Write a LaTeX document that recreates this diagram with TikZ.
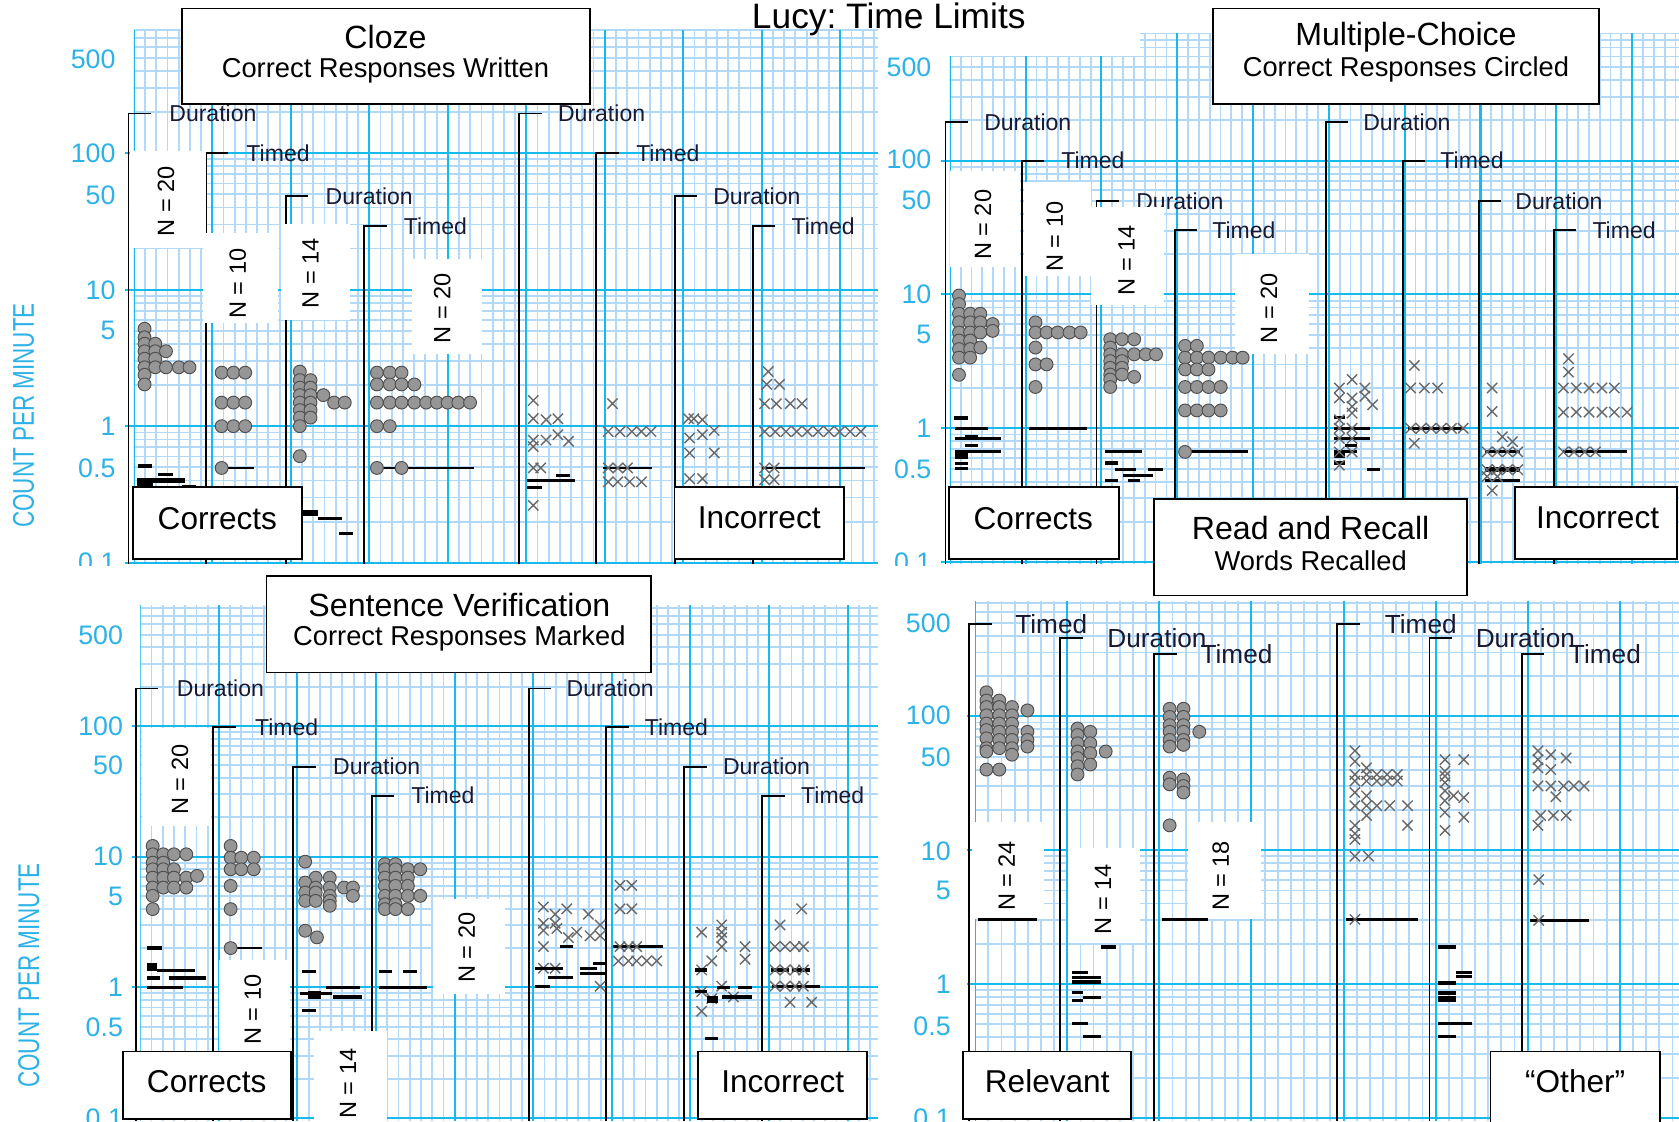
\documentclass[tikz,border=0pt]{standalone}
\usepackage{fontspec}
\setmainfont{Liberation Sans}
\frenchspacing
\definecolor{gmaj}{RGB}{22,186,238}
\definecolor{gmin}{RGB}{178,217,248}
\definecolor{axlab}{RGB}{45,178,232}
\definecolor{dotfill}{RGB}{150,150,150}
\definecolor{dotline}{RGB}{80,80,80}
\definecolor{xcol}{RGB}{105,105,105}
\definecolor{lblcol}{RGB}{25,25,50}
\tikzset{
 gminor/.style={gmin,line width=1.7pt},
 gmajor/.style={gmaj,line width=1.9pt},
 brk/.style={black,line width=1.8pt},
 dotst/.style={fill=dotfill,draw=dotline,line width=0.9pt},
 xst/.style={xcol,line width=1.3pt},
 lbox/.style={draw=black,line width=1.6pt,fill=white,inner sep=0},
 ttl/.style={font=\fontsize{30}{30}\selectfont,inner sep=0},
 sub/.style={font=\fontsize{25.5}{26}\selectfont,inner sep=0},
 big/.style={font=\fontsize{29.5}{30}\selectfont,inner sep=0},
 lbl/.style={font=\fontsize{21.5}{22}\selectfont,text=lblcol,inner sep=0,anchor=west},
 lblb/.style={font=\fontsize{24.5}{25}\selectfont,text=lblcol,inner sep=0,anchor=west},
 axl/.style={font=\fontsize{25}{25}\selectfont,text=axlab,inner sep=0,anchor=east},
 ntx/.style={font=\fontsize{22}{22}\selectfont,rotate=90,inner sep=0},
}
\newcommand\dotc[2]{\path[dotst] (#1,#2) circle[radius=6pt];}
\newcommand\dotrow[2]{\foreach \xx in {#2}{\dotc{\xx}{#1}}}
\newcommand\dotcol[2]{\foreach \yy in {#2}{\dotc{#1}{\yy}}}
\newcommand\xmk[2]{\draw[xst,shift={(#1,#2)}] (-4.8,-4.8)--(4.8,4.8) (-4.8,4.8)--(4.8,-4.8);}
\newcommand\xrow[2]{\foreach \xx in {#2}{\xmk{\xx}{#1}}}
\newcommand\xpairs[1]{\foreach \p/\q in {#1}{\xmk{\p}{\q}}}
\newcommand\dotpairs[1]{\foreach \p/\q in {#1}{\dotc{\p}{\q}}}
\newcommand\barz[4][2.6pt]{\draw[black,line width=#1] (#2,#4) -- (#3,#4);}
\newcommand\brkt[7][lbl]{\draw[brk] ({#3+21},#4) -- (#3,#4) -- (#3,#5);
  \node[#1] (#2) at ({#3+#7},#4) {#6};}
\newcommand\chartgrid[7]{%
 \begin{scope}
 \clip (#1,#3) rectangle (#2,#4);
 \foreach \k in {-1,0,1,2}{\foreach \dd in {2,...,9}{%
   \pgfmathsetmacro\yy{#7-#5*(\k+log10(\dd))}%
   \draw[gminor] (#1,\yy) -- (#2,\yy);}}
 \pgfmathtruncatemacro\nn{(#2-#1)/(#6/7)}%
 \foreach \i in {0,...,\nn}{\pgfmathsetmacro\xx{#1+\i*#6/7}\draw[gminor] (\xx,#3) -- (\xx,#4);}
 \pgfmathtruncatemacro\mm{(#2-#1)/#6}%
 \foreach \i in {0,...,\mm}{\pgfmathsetmacro\xx{#1+\i*#6}\draw[gmajor] (\xx,#3) -- (\xx,#4);}
 \end{scope}
 \foreach \k in {-1,0,1,2}{\pgfmathsetmacro\yy{#7-#5*\k}\draw[gmajor] ({#1-8},\yy) -- (#2,\yy);}
}
\begin{document}
\begin{tikzpicture}[x=1pt,y=-1pt]
\fill[white] (0,0) rectangle (1568,1047);
\useasboundingbox (0,0) rectangle (1568,1047);

% ---------- grids ----------
\chartgrid{125}{820}{28}{527}{127.5}{73.3}{398}
\chartgrid{887}{1568}{31}{527}{125}{70.8}{400}
\chartgrid{131}{820}{565}{1047}{122}{73.4}{922}
\chartgrid{910.7}{1568}{561}{1047}{125}{86}{919}
\fill[white] (875,0) rectangle (1065,52);

% ---------- axis labels ----------
\begin{scope}
\clip (0,0) rectangle (1568,528);
\node[axl] (tl500) at (108,55) {500};
\node[axl] (tl100) at (108,143) {100};
\node[axl] (tl50) at (108,182) {50};
\node[axl] (tl10) at (108,271) {10};
\node[axl] (tl5) at (108,309) {5};
\node[axl] (tl1) at (108,398) {1};
\node[axl] (tl05) at (108,437) {0.5};
\node[axl] (tl01) at (108,525) {0.1};
\node[axl] (tr500) at (870,63) {500};
\node[axl] (tr100) at (870,149) {100};
\node[axl] (tr50) at (870,187) {50};
\node[axl] (tr10) at (870,275) {10};
\node[axl] (tr5) at (870,312) {5};
\node[axl] (tr1) at (870,400) {1};
\node[axl] (tr05) at (870,438) {0.5};
\node[axl] (tr01) at (870,525) {0.1};
\end{scope}
\node[axl] (bl500) at (115,593) {500};
\node[axl] (bl100) at (115,678) {100};
\node[axl] (bl50) at (115,715) {50};
\node[axl] (bl10) at (115,800) {10};
\node[axl] (bl5) at (115,837) {5};
\node[axl] (bl1) at (115,922) {1};
\node[axl] (bl05) at (115,959) {0.5};
\node[axl] (bl01) at (115,1044) {0.1};
\node[axl] (br500) at (888,582) {500};
\node[axl] (br100) at (888,668) {100};
\node[axl] (br50) at (888,707) {50};
\node[axl] (br10) at (888,795) {10};
\node[axl] (br5) at (888,832) {5};
\node[axl] (br1) at (888,919) {1};
\node[axl] (br05) at (888,958) {0.5};
\node[axl] (br01) at (888,1044) {0.1};
\node[rotate=90,text=axlab,inner sep=0] (cpm1) at (22,388) {\fontsize{28}{28}\selectfont\scalebox{0.75}[1]{COUNT PER MINUTE}};
\node[rotate=90,text=axlab,inner sep=0] (cpm2) at (27,911) {\fontsize{28}{28}\selectfont\scalebox{0.75}[1]{COUNT PER MINUTE}};

% ---------- brackets ----------
\brkt{tlb1}{120}{106}{527}{Duration}{38}
\brkt{tlb2}{192}{143}{527}{Timed}{38}
\brkt{tlb3}{267}{183}{527}{Duration}{37}
\brkt{tlb4}{340}{211}{527}{Timed}{37}
\brkt{tlb5}{485}{106}{527}{Duration}{36}
\brkt{tlb6}{557}{143}{527}{Timed}{37}
\brkt{tlb7}{630}{183}{527}{Duration}{36}
\brkt{tlb8}{703}{211}{527}{Timed}{36}
\brkt{trb1}{883}{114}{527}{Duration}{36}
\brkt{trb2}{954}{150}{527}{Timed}{37}
\brkt{trb3}{1024}{188}{527}{Duration}{37}
\brkt{trb4}{1097}{215}{527}{Timed}{35}
\brkt{trb5}{1238}{114}{527}{Duration}{35}
\brkt{trb6}{1310}{150}{527}{Timed}{35}
\brkt{trb7}{1381}{188}{527}{Duration}{34}
\brkt{trb8}{1451}{215}{527}{Timed}{36}
\brkt{blb1}{127}{643}{1047}{Duration}{38}
\brkt{blb2}{199}{679}{1047}{Timed}{39}
\brkt{blb3}{274}{716}{1047}{Duration}{37}
\brkt{blb4}{347}{743}{1047}{Timed}{37}
\brkt{blb5}{494}{643}{1047}{Duration}{35}
\brkt{blb6}{566}{679}{1047}{Timed}{36}
\brkt{blb7}{639}{716}{1047}{Duration}{36}
\brkt{blb8}{712}{743}{1047}{Timed}{36}
\brkt[lblb]{brb1}{905}{583}{1047}{Timed}{43}
\brkt[lblb]{brb2}{990}{596}{1047}{Duration}{44}
\brkt[lblb]{brb3}{1078}{611}{1047}{Timed}{43}
\brkt[lblb]{brb4}{1249}{583}{1047}{Timed}{44}
\brkt[lblb]{brb5}{1335}{596}{1047}{Duration}{43}
\brkt[lblb]{brb6}{1421}{611}{1047}{Timed}{44}

% ---------- white N boxes ----------
\fill[white] (121.5,141) rectangle (192,232);
\fill[white] (190,218) rectangle (260,302);
\fill[white] (262,209) rectangle (327,299);
\fill[white] (385,242) rectangle (450,331);
\fill[white] (887,160) rectangle (953,249);
\fill[white] (956,170) rectangle (1019,258);
\fill[white] (1019,193) rectangle (1087,285);
\fill[white] (1153,237) rectangle (1222,331);
\fill[white] (133,680) rectangle (197,771);
\fill[white] (204.5,896.5) rectangle (270.7,987);
\fill[white] (293,963) rectangle (361,1047);
\fill[white] (404,840) rectangle (472,928);
\fill[white] (908,768) rectangle (975,858);
\fill[white] (997,792) rectangle (1065,881);
\fill[white] (1109,768) rectangle (1178,858);

% ---------- TL data ----------
\dotcol{135}{307,315,321,328,335,343,350,359}
\dotcol{145}{321,328,335,343}
\dotc{155}{328}
\dotrow{343}{155,167,177}
\barz[4pt]{129}{142}{435}
\barz[3pt]{148}{162}{443}
\barz[4pt]{128}{173}{448.6}
\barz[5pt]{128}{143}{453}
\barz[2.5pt]{170}{183}{454}
\dotrow{348}{207,218,229}
\dotrow{376}{207,218,229}
\dotrow{398}{207,218,229}
\barz{207}{237}{437}
\dotc{207}{437}
\dotcol{280}{347,355,362,369,376,383,390,398,426}
\dotcol{290}{355,362,369,376,383,390}
\dotc{302}{369}
\dotrow{376}{312,322}
\barz[5pt]{280}{297}{479}
\barz[3pt]{297}{319}{484}
\barz[3pt]{317}{330}{498}
\dotrow{348}{352,364,375}
\dotrow{359}{352,364,375,387}
\dotrow{376}{352,364,375,387,398,408,418,428,439}
\dotrow{398}{352,364}
\barz{352}{443}{437}
\dotrow{437}{352,375}
\xpairs{498/374,498/391,510/392,521/391,498/411,510/411,521/406,531/412,498/417,498/437,505/437,498/472}
\barz[3pt]{519}{532}{444}
\barz[3pt]{492}{537}{449}
\barz[3pt]{492}{506}{455}
\xmk{572}{377}
\xrow{403}{568,579,590,599,608}
\barz{563}{608.6}{437}
\xrow{437}{568,577,586}
\xrow{450}{568,577,588,599}
\xpairs{643/391,648/391,656/392,644/409,656/406,667/402,644/423,667/423,644/447,656/447}
\xmk{717.5}{347}
\xrow{359}{716,728}
\xrow{377}{714,725,738,749}
\xrow{403}{714,724,734,744,754,764,774,784,794,804}
\barz{712}{808}{437}
\xrow{437}{714,723}
\xrow{448}{714,723}

% ---------- TR data ----------
\dotcol{895.6}{276,284,293,301,310.5,318,326,334,350}
\dotcol{906}{293,301,310.5,318,326,334}
\dotcol{915.5}{293,301,310.5,324.6}
\dotcol{927}{302.6,309}
\barz[4pt]{891}{903.6}{390.6}
\barz[3pt]{892}{922.7}{400}
\barz[3pt]{901}{913}{407.8}
\barz[3pt]{892}{934.6}{409.4}
\barz[3pt]{901}{913}{415.7}
\barz[3pt]{892}{934.6}{422}
\barz[7pt]{892}{903.6}{425}
\barz[3pt]{892}{903.6}{433}
\barz[3pt]{892}{903.6}{437.7}
\dotcol{967}{301,310.5,324.6,340.3,361.4}
\dotrow{310.5}{977.4,987.8,998.8,1009.2}
\dotc{977.4}{340.3}
\barz[3pt]{960.7}{1015.4}{400}
\dotcol{1036.8}{316.8,324.6,330.9,337.2,343.5,349.8,354.4,361.4}
\dotcol{1047.8}{316.8,330.9,337.2,343.5,349.8}
\dotcol{1059.2}{316.8,330.9,352}
\dotrow{330.9}{1070,1079.6}
\barz[3pt]{1032}{1066.8}{422}
\barz[3pt]{1032}{1044}{432.3}
\barz[3pt]{1041.6}{1060.6}{438.6}
\barz[3pt]{1072.5}{1085.8}{438.6}
\barz[3pt]{1048.7}{1077.2}{444}
\barz[3pt]{1032}{1044}{448.6}
\barz[3pt]{1053.5}{1065}{448.6}
\dotrow{323}{1106.7,1117.7}
\dotrow{334}{1106.7,1117.7,1128.6,1140,1151,1160.5}
\dotrow{345}{1106.7,1117.7,1128.6}
\dotrow{361.4}{1106.7,1117.7,1128.6,1140}
\dotrow{383.3}{1106.7,1117.7,1128.6,1140}
\barz[3pt]{1106.7}{1165.2}{422}
\dotc{1106.7}{422}
\barz[3pt]{1246}{1255.6}{389.6}
\barz[3pt]{1246}{1279.4}{400}
\barz[3pt]{1246}{1279.4}{409.4}
\barz[3pt]{1255.6}{1267.4}{415.7}
\barz[3pt]{1246}{1267.4}{422}
\barz[6pt]{1246}{1255.6}{425}
\barz[3pt]{1246}{1255.6}{432.3}
\barz[3pt]{1277}{1288.9}{438.6}
\xpairs{1250.8/362.3,1262.7/354.4,1274.6/362.3,1250.8/371.7,1262.7/371.7,1274.6/370.1,1262.7/379.6,1281.8/378,1262.7/385.8,1250.8/392,1250.8/400,1262.7/400,1250.8/409.4,1262.7/409.4,1250.8/422,1262.7/422,1250.8/434.5}
\xmk{1320.8}{341.3}
\xrow{362.3}{1317.4,1330.2,1342.6}
\barz[3pt]{1315}{1367}{400}
\xrow{400}{1317.4,1327,1336.5,1346,1355.5,1366.4}
\xmk{1320.8}{414}
\xpairs{1393.5/362.3,1393.5/384.3,1403/407.8,1412.5/412.5,1393.5/458}
\barz[3pt]{1386.4}{1419.7}{422}
\barz[5pt]{1386.4}{1419.7}{438.6}
\barz[3pt]{1386.4}{1419.7}{448.6}
\xrow{422}{1388.8,1398.3,1407.8,1417.3}
\xrow{438.6}{1388.8,1398.3,1407.8,1417.3}
\xrow{445}{1388.8,1398.3}
\xpairs{1464.8/335,1464.8/347.5}
\xrow{362.3}{1460,1472,1484,1496,1507.6}
\xrow{384.9}{1460,1472,1484,1496,1507.6,1519.5}
\barz[3pt]{1460}{1519.5}{422}
\xrow{422}{1460,1470,1480,1490}

% ---------- BL data ----------
\dotcol{142.6}{790,797.8,805.6,811.8,819.6,828.9,836.6,849}
\dotcol{152.5}{797.8,805.6,811.8,819.6,828.9}
\dotcol{162.4}{797.8,811.8,819.6,828.9}
\dotcol{174}{797.8,819.6,828.9}
\dotc{184}{818}
\barz[3pt]{137.6}{151}{885.4}
\barz[8pt]{137.6}{147}{903}
\barz[3pt]{147}{182}{906.5}
\barz[3pt]{137.6}{149}{913.3}
\barz[3pt]{157.5}{192}{913.3}
\barz[3pt]{137.6}{170.7}{922}
\dotcol{215.4}{790,801,811.8,827.3,849}
\dotrow{801}{225.3,237}
\dotrow{811.8}{225.3,237}
\barz{215.4}{245}{885.4}
\dotc{215.4}{885.4}
\dotpairs{285/804.7,294.8/819.6,308/819.6,285/824.2,294.8/828.9,308/828.9,321.3/828.9,329.6/828.9,285/833.5,294.8/833.5,308/836.6,329.6/836.6,285/841.3,294.8/841.3,308/841.3,308/845.9,285/869.2,296/875.4}
\barz[3pt]{281.6}{294.8}{907}
\barz[3pt]{304.8}{336}{922}
\barz[3pt]{280}{310}{928}
\barz[7pt]{288}{300}{929}
\barz[3pt]{311}{338}{931}
\barz[3pt]{281.6}{294.8}{944}
\dotcol{359.4}{807,811.8,819.6,827.3,836.6,844.4,849}
\dotcol{369.3}{807,811.8,819.6,827.3,836.6,844.4,849}
\dotcol{380.9}{811.8,819.6,827.3,836.6,849}
\dotcol{392.5}{811.8,836.6}
\barz[3pt]{354.4}{366}{907}
\barz[3pt]{376}{389}{907}
\barz[3pt]{354.4}{399}{922}
\xpairs{507.5/847,518.4/853.8,529.3/848.7,507.5/862.2,518.4/862.2,507.5/868.9,520/867.1,538.6/870.6,530.8/875.6,549.5/853.8,560.4/863.8,551/873.9,560.4/873.9,507.5/884,507.5/904.2,518.4/904.2,560.4/921}
\barz[3pt]{523}{535.5}{884}
\barz[3pt]{499.7}{526}{904.2}
\barz[3pt]{512}{535.5}{913.2}
\barz[3pt]{541.7}{557.3}{904.2}
\barz[3pt]{554.2}{565}{900}
\barz[3pt]{541.7}{565}{909.2}
\barz[3pt]{499.7}{513.7}{921}
\xpairs{579/826.9,590/826.9,579/848.7,590/848.7}
\barz[3pt]{572.8}{619.5}{884}
\xrow{884}{579,586.9,594.6}
\xrow{897.4}{577.5,586.9,594.6,604,613.3}
\xpairs{655.3/870.6,664.7/897.4,674/863.8,674/870.6,674/875.6,674/884,695.8/884,695.8/895.8,655.3/905.8,655.3/926,664.7/932.6,674/921,684.9/931,655.3/944.4}
\barz[3pt]{649.1}{660}{905.8}
\barz[3pt]{649.1}{660}{926}
\barz[6pt]{660}{670.9}{933.3}
\barz[3pt]{669.4}{681.8}{922}
\barz[3pt]{689.6}{702}{922}
\barz[3pt]{674}{702}{931}
\barz[3pt]{658}{670.9}{969.7}
\xpairs{748.7/848.7,728.5/863.8}
\xrow{884}{723.8,733.2,742.5,750.3}
\barz[3pt]{720}{737}{905.8}
\barz[3pt]{740}{756}{905.8}
\xrow{905.8}{723.8,733.2,742.5,750.3}
\barz[3pt]{720.7}{765.9}{921}
\xrow{921}{723.8,733.2,742.5,750.3}
\xrow{936}{737.8,758}

% ---------- BR data ----------
\dotcol{921.2}{646.5,654.2,660.3,668,675.7,681.8,689.5,698.7,701.8,718.7}
\dotcol{933.2}{654.2,660.3,668,675.7,683.4,691,698.7,718.7}
\dotcol{945.1}{660.3,668,675.7,683.4,691,698.7,704.8}
\dotcol{959.5}{663.4,683.4,691,697.2}
\barz[3pt]{913}{968}{858.6}
\dotcol{1006.3}{680.3,686.4,694.1,701.8,707.9,715.6,723.3}
\dotcol{1018.2}{683.4,694.1,703.3,714}
\dotc{1032.6}{701.8}
\barz[3pt]{1027.8}{1042}{884.3}
\barz[3pt]{1001.5}{1015.9}{908}
\barz[3pt]{1001.5}{1027.8}{912.8}
\barz[3pt]{1001.5}{1027.8}{917}
\barz[3pt]{1001.5}{1011}{926.8}
\barz[3pt]{1011}{1027.8}{931.4}
\barz[3pt]{1001.5}{1011}{934.5}
\barz[3pt]{1001.5}{1015.9}{956}
\barz[3pt]{1011}{1027.8}{967.7}
\dotcol{1092.3}{661.9,669.5,677.2,683.4,691,697.2,726.3,732.5,770.8}
\dotcol{1105.2}{661.9,669.5,677.2,683.4,691,695.6,727.9,734,740.1}
\dotc{1120}{683.4}
\barz[3pt]{1085}{1128}{858.6}
\xpairs{1265.3/701.2,1265.3/711,1276.2/717.1,1265.3/740.1,1276.2/743.2,1276.2/761.6,1265.3/770.8,1314.5/770.8,1265.3/778.5,1265.3/784,1265.3/799.6,1278/799.6}
\xrow{723.3}{1265.3,1276.2,1285.8,1295.4,1304.9}
\xrow{729.4}{1265.3,1276.2,1285.8,1295.4,1304.9}
\xrow{752.4}{1265.3,1276.2,1285.8,1297.8,1314.5}
\barz[3pt]{1257}{1324}{858.6}
\xmk{1265.3}{858.6}
\xpairs{1349.4/709.4,1367/709.4,1349.4/720.2,1349.4/724.8,1349.4/730.9,1349.4/738.6,1357.5/743.2,1367/744.8,1349.4/747.8,1349.4/758.6,1367/763.2,1349.4/775.5}
\barz[3pt]{1343.1}{1359.9}{884.3}
\barz[3pt]{1359.9}{1374.2}{908}
\barz[3pt]{1359.9}{1374.2}{912}
\barz[3pt]{1343.1}{1359.9}{918}
\barz[3pt]{1343.1}{1359.9}{927.4}
\barz[6pt]{1343.1}{1359.9}{933}
\barz[3pt]{1343.1}{1374.2}{956}
\barz[3pt]{1343.1}{1359.9}{967.7}
\xpairs{1436.3/701.2,1448.3/704.8,1462.6/707.9,1436.3/709.4,1436.3/717.1,1448.3/718.7,1453/744.1,1436.3/770.8,1437/821.4}
\xrow{734}{1436.3,1448.3,1460.2,1469.8,1479.3}
\xrow{761.6}{1438.7,1450.7,1462.6}
\barz[3pt]{1429}{1484}{859.5}
\xmk{1437}{859.5}

% ---------- N labels ----------
\node[ntx] (ntl1) at (155,188) {N = 20};
\node[ntx] (ntl2) at (222,265) {N = 10};
\node[ntx] (ntl3) at (290,255) {N = 14};
\node[ntx] (ntl4) at (413,288) {N = 20};
\node[ntx] (ntr1) at (918,210) {N = 20};
\node[ntx] (ntr2) at (985,221) {N = 10};
\node[ntx] (ntr3) at (1052,243) {N = 14};
\node[ntx] (ntr4) at (1185,288) {N = 20};
\node[ntx] (nbl1) at (168,728) {N = 20};
\node[ntx] (nbl2) at (236,943) {N = 10};
\node[ntx] (nbl3) at (325,1012) {N = 14};
\node[ntx] (nbl4) at (436,885) {N = 20};
\node[ntx] (nbr1) at (940,818) {N = 24};
\node[ntx] (nbr2) at (1030,840) {N = 14};
\node[ntx] (nbr3) at (1140,818) {N = 18};

% ---------- title and label boxes ----------
\node[inner sep=0,anchor=base] (title) at (830,27) {\fontsize{33}{33}\selectfont Lucy: Time Limits};
\node[lbox,minimum width=381pt,minimum height=89pt] (clozebox) at (360.5,52.5) {};
\node[ttl] (clozet) at (360,35) {Cloze};
\node[sub] (clozes) at (360,66) {Correct Responses Written};
\node[lbox,minimum width=360pt,minimum height=89pt] (mcbox) at (1313,52.5) {};
\node[ttl] (mct) at (1313,35) {Multiple-Choice};
\node[sub] (mcs) at (1313,65) {Correct Responses Circled};
\node[lbox,minimum width=359pt,minimum height=90pt] (svbox) at (428.5,583) {};
\node[ttl] (svt) at (429,565) {Sentence Verification};
\node[sub] (svs) at (429,596) {Correct Responses Marked};
\node[lbox,minimum width=292pt,minimum height=90pt] (rrbox) at (1224,511) {};
\node[ttl] (rrt) at (1224,493) {Read and Recall};
\node[sub] (rrs) at (1224,524) {Words Recalled};
\node[lbox,minimum width=158pt,minimum height=67pt] (ctlbox) at (203,488.5) {};
\node[big] (ctl) at (203,484) {Corrects};
\node[lbox,minimum width=158pt,minimum height=67pt] (itlbox) at (709,488.5) {};
\node[big] (itl) at (709,484) {Incorrect};
\node[lbox,minimum width=159pt,minimum height=67pt] (ctrbox) at (965.5,488.5) {};
\node[big] (ctr) at (965,484) {Corrects};
\node[lbox,minimum width=151pt,minimum height=67pt] (itrbox) at (1490.5,488.5) {};
\node[big] (itr) at (1492,484) {Incorrect};
\node[lbox,minimum width=157pt,minimum height=63pt] (cblbox) at (193.5,1013.5) {};
\node[big] (cbl) at (193,1010) {Corrects};
\node[lbox,minimum width=158pt,minimum height=63pt] (iblbox) at (731,1013.5) {};
\node[big] (ibl) at (731,1010) {Incorrect};
\node[lbox,minimum width=157pt,minimum height=63pt] (rbrbox) at (977.5,1013.5) {};
\node[big] (rbr) at (978,1010) {Relevant};
\node[lbox,minimum width=158pt,minimum height=70pt] (obrbox) at (1471,1017) {};
\node[big] (obr) at (1471,1010) {“Other”};
\end{tikzpicture}
\end{document}
